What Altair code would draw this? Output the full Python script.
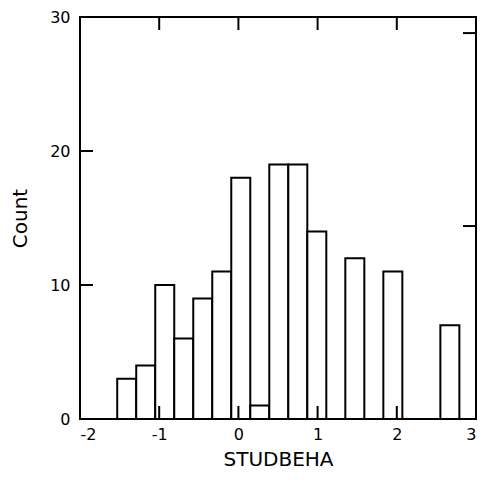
import altair as alt
import pandas as pd

# Histogram bins (STUDBEHA), bin width 0.24 starting at -1.53
bin_starts = [-1.53, -1.29, -1.05, -0.81, -0.57, -0.33, -0.09, 0.15, 0.39, 0.63, 0.87,
              1.35, 1.83, 2.55]
bin_width = 0.24
counts = [3, 4, 10, 6, 9, 11, 18, 1, 19, 19, 14, 12, 11, 7]

x_ticks = [-2, -1, 0, 1, 2, 3]
x_inner_ticks = [-1, 0, 1, 2]
y_ticks = [0, 10, 20, 30]
y_inner_ticks = [10, 20]
prop_ticks = [0.1, 0.2]

W, H = 396, 402
TICK = 13

bars = pd.DataFrame({
    "start": bin_starts,
    "end": [s + bin_width for s in bin_starts],
    "count": counts,
})
total = sum(counts)

xscale = alt.Scale(domain=[-2, 3], nice=False, zero=False)
yscale = alt.Scale(domain=[0, 30], nice=False)

font = "DejaVu Sans"

base_bars = alt.Chart(bars).mark_rect(
    fill="white", stroke="black", strokeWidth=2
).encode(
    x=alt.X("start:Q", scale=xscale,
            axis=alt.Axis(values=x_ticks, title="STUDBEHA", ticks=False, tickSize=0,
                          domain=False, grid=False, labelPadding=7,
                          labelExpr="datum.value + ''",
                          labelFont=font, labelFontSize=16, labelColor="black",
                          titleFont=font, titleFontSize=20, titleFontWeight="normal",
                          titleColor="black", titlePadding=7)),
    x2="end:Q",
    y=alt.Y("count:Q", scale=yscale,
            axis=alt.Axis(values=y_ticks, title="Count", ticks=False, tickSize=0,
                          domain=False, grid=False, labelPadding=10,
                          labelFont=font, labelFontSize=16, labelColor="black",
                          titleFont=font, titleFontSize=20, titleFontWeight="normal",
                          titleColor="black", titlePadding=19)),
    y2=alt.datum(0),
)

bx = pd.DataFrame({"v": x_inner_ticks})
bottom_ticks = alt.Chart(bx).mark_rule(color="black", strokeWidth=2).encode(
    x=alt.X("v:Q", scale=xscale), y=alt.value(H), y2=alt.value(H - TICK))
top_ticks = alt.Chart(bx).mark_rule(color="black", strokeWidth=2).encode(
    x=alt.X("v:Q", scale=xscale), y=alt.value(0), y2=alt.value(TICK))

ly = pd.DataFrame({"v": y_inner_ticks})
left_ticks = alt.Chart(ly).mark_rule(color="black", strokeWidth=2).encode(
    y=alt.Y("v:Q", scale=yscale), x=alt.value(0), x2=alt.value(TICK))

ry = pd.DataFrame({"v": [p * total for p in prop_ticks]})
right_ticks = alt.Chart(ry).mark_rule(color="black", strokeWidth=2).encode(
    y=alt.Y("v:Q", scale=yscale), x=alt.value(W - TICK), x2=alt.value(W))

chart = alt.layer(base_bars, bottom_ticks, top_ticks, left_ticks, right_ticks).properties(
    width=W, height=H,
    autosize=alt.AutoSizeParams(type="none"),
    padding={"left": 72, "top": 9, "right": 4, "bottom": 57},
    background="white",
).configure_view(stroke="black", strokeWidth=2)

chart.save("out.html", embed_options={"renderer": "svg", "actions": False})
